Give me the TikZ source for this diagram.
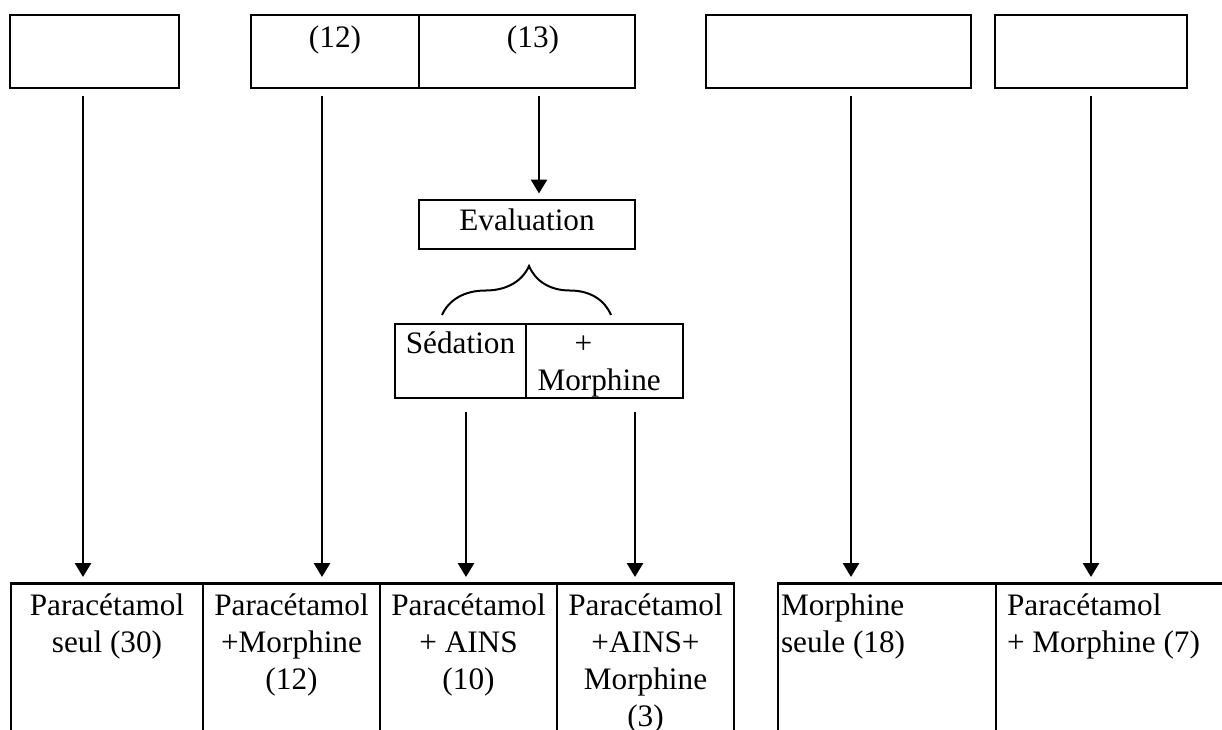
\documentclass[tikz,border=0pt]{standalone}
\usepackage{fontspec}
\setmainfont{Liberation Serif}
\usetikzlibrary{arrows.meta,decorations.pathreplacing}

\tikzset{
  box/.style={draw,line width=1pt,inner sep=0pt,outer sep=0pt},
  lbl/.style={inner sep=0pt,align=center,font=\fontsize{12.5}{14.7}\selectfont},
  arr/.style={->,line width=1.1pt,shorten <=3.2pt,shorten >=2.6pt},
  brace/.style={decorate,decoration={brace,amplitude=19.6pt,aspect=0.515},line width=0.8pt}
}

\begin{document}
\begin{tikzpicture}[x=0.4pt,y=-0.4pt,>={Triangle[length=5.6pt,width=6.4pt]}]
  \path[use as bounding box,clip] (0,0) rectangle (1222,729);

  \node[box,minimum width=67.6pt,minimum height=29.2pt] (t1) at (94.5,51.5) {};
  \node[box,minimum width=67.2pt,minimum height=29.2pt] (t2a) at (335,51.5) {};
  \node[box,minimum width=86.4pt,minimum height=29.2pt] (t2b) at (527,51.5) {};
  \node[box,minimum width=106pt,minimum height=29.2pt] (t3) at (838.5,51.5) {};
  \node[box,minimum width=76.8pt,minimum height=29.2pt] (t4) at (1091,51.5) {};
  \node[lbl,anchor=north] at ([yshift=-4.3pt]t2a.north) {(12)};
  \node[lbl,anchor=north] at ([xshift=2.4pt,yshift=-4.3pt]t2b.north) {(13)};

  \node[box,lbl,minimum width=86.4pt,minimum height=19.6pt,text depth=4.1pt] (e) at (527,224.5) {Evaluation};
  \draw[brace] (442,315) -- (611,315);

  \node[box,minimum width=52.4pt,minimum height=29.6pt] (s1) at (460.5,361) {};
  \node[box,minimum width=62.8pt,minimum height=29.6pt] (s2) at (604.5,361) {};
  \node[lbl,anchor=north] at ([yshift=-3.1pt]s1.north) {Sédation};
  \node[lbl,align=left,anchor=north west] at ([xshift=4.4pt,yshift=-3.1pt]s2.north west) {\hspace*{14.8pt}+\vphantom{h}\\Morphine};

  \node[box,minimum width=76.8pt,minimum height=74.6pt] (b1) at (107,676.75) {};
  \node[box,minimum width=70.8pt,minimum height=74.6pt] (b2) at (291.5,676.75) {};
  \node[box,minimum width=70.8pt,minimum height=74.6pt] (b3) at (468.5,676.75) {};
  \node[box,minimum width=70.8pt,minimum height=74.6pt] (b4) at (645.5,676.75) {};
  \node[box,minimum width=87.2pt,minimum height=74.6pt] (b5) at (887,676.75) {};
  \node[box,minimum width=97.6pt,minimum height=74.6pt] (b6) at (1118,676.75) {};
  \node[lbl,anchor=north] at ([yshift=-4.1pt]b1.north) {Paracétamol\\seul (30)};
  \node[lbl,anchor=north] at ([yshift=-4.1pt]b2.north) {Paracétamol\\+Morphine\\(12)};
  \node[lbl,anchor=north] at ([yshift=-4.1pt]b3.north) {Paracétamol\\+ AINS\\(10)};
  \node[lbl,anchor=north] at ([yshift=-4.1pt]b4.north) {Paracétamol\\+AINS+\\Morphine\\(3)};
  \node[lbl,align=left,anchor=north west] at ([xshift=1pt,yshift=-4.1pt]b5.north west) {Morphine\\seule (18)};
  \node[lbl,align=left,anchor=north west] at ([xshift=4.2pt,yshift=-4.1pt]b6.north west) {Paracétamol\\+ Morphine (7)};

  \draw[arr] ([xshift=-4.6pt]t1.south) -- ([xshift=-4.6pt]t1.south |- b1.north);
  \draw[arr] ([xshift=-5.2pt]t2a.south) -- ([xshift=-5.2pt]t2a.south |- b2.north);
  \draw[arr] ([xshift=4.8pt]t2b.south) -- ([xshift=4.8pt]t2b.south |- e.north);
  \draw[arr,shorten <=5.6pt] ([xshift=2.2pt]s1.south) -- ([xshift=2.2pt]s1.south |- b3.north);
  \draw[arr,shorten <=5.6pt] ([xshift=12.2pt]s2.south) -- ([xshift=12.2pt]s2.south |- b4.north);
  \draw[arr] ([xshift=5pt]t3.south) -- ([xshift=5pt]t3.south |- b5.north);
  \draw[arr] (t4.south) -- (t4.south |- b6.north);
\end{tikzpicture}
\end{document}
